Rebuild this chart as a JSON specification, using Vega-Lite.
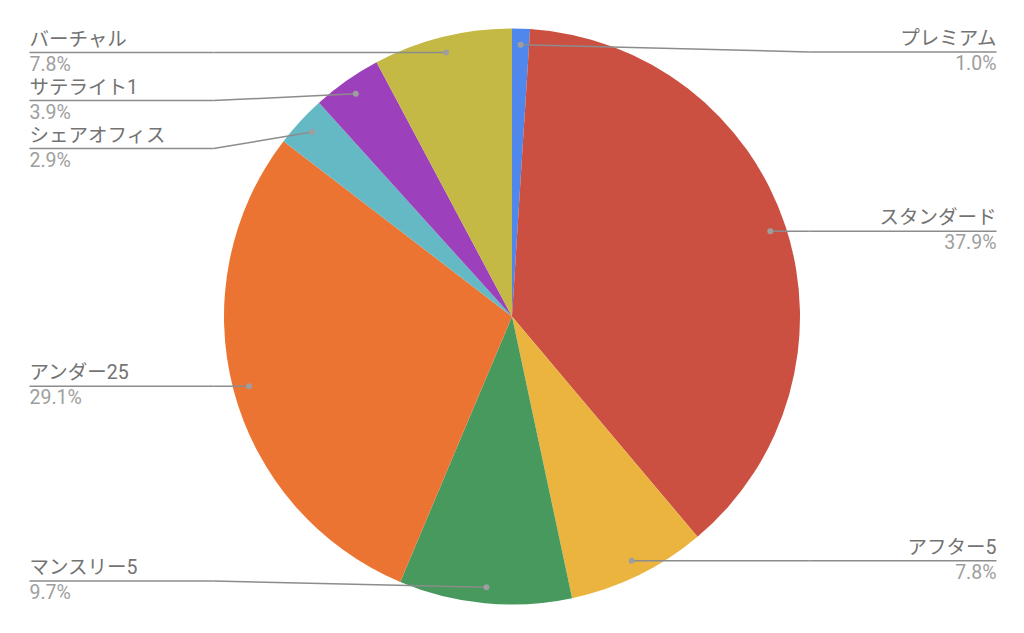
{
  "$schema": "https://vega.github.io/schema/vega-lite/v6.json",
  "width": 1024,
  "height": 633,
  "autosize": {"type": "fit", "contains": "padding"},
  "padding": 0,
  "background": "white",
  "config": {"view": {"stroke": null}},
  "data": {
    "values": [
      {"category": "プレミアム", "value": 0.010},
      {"category": "スタンダード", "value": 0.379},
      {"category": "アフター5", "value": 0.078},
      {"category": "マンスリー5", "value": 0.097},
      {"category": "アンダー25", "value": 0.291},
      {"category": "シェアオフィス", "value": 0.029},
      {"category": "サテライト1", "value": 0.039},
      {"category": "バーチャル", "value": 0.078}
    ]
  },
  "transform": [
    {"window": [{"op": "row_number", "as": "i"}]},
    {"joinaggregate": [{"op": "sum", "field": "value", "as": "total"}]},
    {"window": [{"op": "sum", "field": "value", "as": "cum"}], "sort": [{"field": "i"}], "frame": [null, 0]},
    {"calculate": "2*PI*(datum.cum - datum.value/2)/datum.total", "as": "mid"},
    {"calculate": "272*sin(datum.mid)", "as": "dotX"},
    {"calculate": "-272*cos(datum.mid)", "as": "dotSY"},
    {"calculate": "-datum.dotSY", "as": "dotY"},
    {"calculate": "datum.dotX >= 0 ? 'R' : 'L'", "as": "side"},
    {"window": [{"op": "row_number", "as": "k"}], "groupby": ["side"], "sort": [{"field": "dotSY"}]},
    {"calculate": "max(datum.dotSY, -264.5) - 48*datum.k", "as": "t"},
    {"window": [{"op": "max", "field": "t", "as": "tmax"}], "groupby": ["side"], "sort": [{"field": "dotSY"}], "frame": [null, 0]},
    {"calculate": "-min(datum.tmax + 48*datum.k, 264.5)", "as": "labY"},
    {"calculate": "datum.side == 'R' ? 297.5 : -298.5", "as": "elbowX"},
    {"calculate": "datum.side == 'R' ? 484.5 : -482.5", "as": "endX"}
  ],
  "layer": [
    {
      "mark": {"type": "arc", "outerRadius": 288},
      "encoding": {
        "theta": {"field": "value", "type": "quantitative", "stack": true},
        "order": {"field": "i", "type": "quantitative"},
        "color": {
          "field": "category",
          "type": "nominal",
          "legend": null,
          "scale": {
            "domain": ["プレミアム", "スタンダード", "アフター5", "マンスリー5", "アンダー25", "シェアオフィス", "サテライト1", "バーチャル"],
            "range": ["#4F87EC", "#CB5042", "#EAB43F", "#47995E", "#EC7432", "#65B9C4", "#9C40BC", "#C3B944"]
          }
        }
      }
    },
    {
      "mark": {"type": "rule", "color": "#8c8c8c", "strokeWidth": 1.5},
      "encoding": {
        "x": {"field": "dotX", "type": "quantitative", "axis": null, "scale": {"domain": [-512, 512], "nice": false, "zero": false}},
        "y": {"field": "dotY", "type": "quantitative", "axis": null, "scale": {"domain": [-316.5, 316.5], "nice": false, "zero": false}},
        "x2": {"field": "elbowX"},
        "y2": {"field": "labY"}
      }
    },
    {
      "mark": {"type": "rule", "color": "#8c8c8c", "strokeWidth": 1.5},
      "encoding": {
        "x": {"field": "elbowX", "type": "quantitative"},
        "y": {"field": "labY", "type": "quantitative"},
        "x2": {"field": "endX"},
        "y2": {"field": "labY"}
      }
    },
    {
      "mark": {"type": "point", "filled": true, "color": "#9e9e9e", "opacity": 1, "size": 36},
      "encoding": {
        "x": {"field": "dotX", "type": "quantitative"},
        "y": {"field": "dotY", "type": "quantitative"}
      }
    },
    {
      "transform": [{"filter": "datum.side == 'R'"}],
      "mark": {"type": "text", "align": "right", "baseline": "alphabetic", "dy": -7, "fontSize": 19.5, "font": "Roboto, 'Noto Sans CJK JP', sans-serif", "color": "#737373"},
      "encoding": {
        "x": {"field": "endX", "type": "quantitative"},
        "y": {"field": "labY", "type": "quantitative"},
        "text": {"field": "category"}
      }
    },
    {
      "transform": [{"filter": "datum.side == 'L'"}],
      "mark": {"type": "text", "align": "left", "baseline": "alphabetic", "dy": -7, "fontSize": 19.5, "font": "Roboto, 'Noto Sans CJK JP', sans-serif", "color": "#737373"},
      "encoding": {
        "x": {"field": "endX", "type": "quantitative"},
        "y": {"field": "labY", "type": "quantitative"},
        "text": {"field": "category"}
      }
    },
    {
      "transform": [{"filter": "datum.side == 'R'"}],
      "mark": {"type": "text", "align": "right", "baseline": "alphabetic", "dy": 18, "fontSize": 19.5, "font": "Roboto, 'Noto Sans CJK JP', sans-serif", "color": "#9e9e9e"},
      "encoding": {
        "x": {"field": "endX", "type": "quantitative"},
        "y": {"field": "labY", "type": "quantitative"},
        "text": {"field": "value", "type": "quantitative", "format": ".1%"}
      }
    },
    {
      "transform": [{"filter": "datum.side == 'L'"}],
      "mark": {"type": "text", "align": "left", "baseline": "alphabetic", "dy": 18, "fontSize": 19.5, "font": "Roboto, 'Noto Sans CJK JP', sans-serif", "color": "#9e9e9e"},
      "encoding": {
        "x": {"field": "endX", "type": "quantitative"},
        "y": {"field": "labY", "type": "quantitative"},
        "text": {"field": "value", "type": "quantitative", "format": ".1%"}
      }
    }
  ]
}
